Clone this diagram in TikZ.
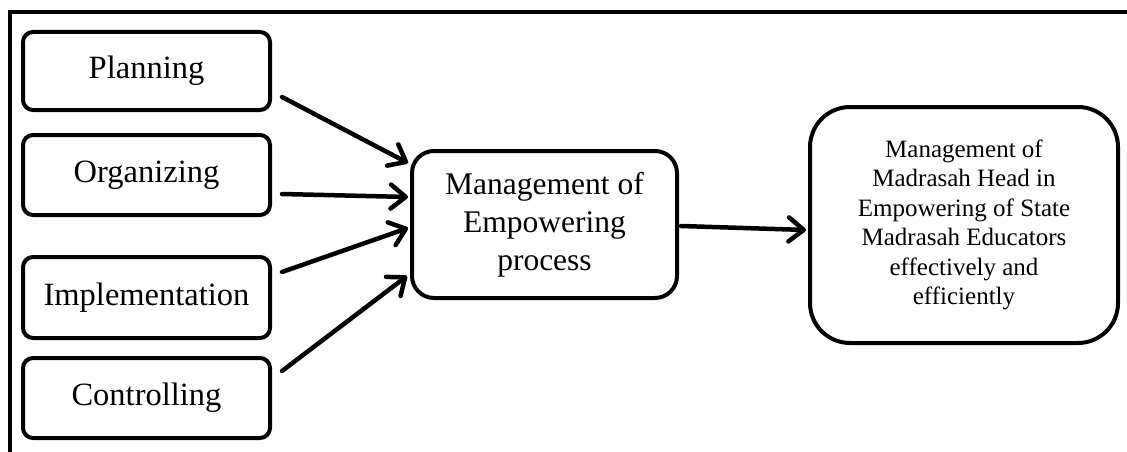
\documentclass[tikz,border=0pt]{standalone}
\usepackage{fontspec}
\setmainfont{Liberation Serif}
\usetikzlibrary{arrows.meta,calc}
\begin{document}
\begin{tikzpicture}[x=1pt,y=-1pt,
  lbox/.style={draw,line width=4pt,rounded corners=10pt,minimum width=247pt,minimum height=80pt,inner sep=0pt,align=center,font=\fontsize{32.5}{37}\selectfont},
  arr/.style={line width=4.5pt,line cap=round,-{Straight Barb[length=15pt,width=24pt,round]}},
  frame/.style={line width=4pt}]
\useasboundingbox (0,0) rectangle (1127,452);
\draw[frame] (10,452) -- (10,12) -- (1127,12);
\node[lbox,minimum height=78pt] (plan) at (146.5,71) {Planning};
\node[lbox] (org) at (146.5,175) {Organizing};
\node[lbox,minimum height=81pt] (impl) at (146.5,297.5) {Implementation};
\node[lbox] (ctrl) at (146.5,398) {Controlling};
\node[draw,line width=4pt,rounded corners=22pt,minimum width=265pt,minimum height=147pt,inner sep=0pt,align=center,font=\fontsize{31.5}{37.5}\selectfont] (mid) at (544.5,224.5) {\raisebox{-4pt}{\begin{tabular}{@{}c@{}}Management of\\[0.5pt]Empowering\\[0.5pt]process\end{tabular}}};
\node[draw,line width=4pt,rounded corners=40pt,minimum width=308pt,minimum height=236pt,inner sep=0pt,align=center,font=\fontsize{25}{29.5}\selectfont] (res) at (964,225) {Management of\\Madrasah Head in\\Empowering of State\\Madrasah Educators\\effectively and\\efficiently};
\draw[arr] ($(plan.east)+(10,26)$) -- ($(mid.west)+(-2,-61.5)$);
\draw[arr] ($(org.east)+(10,19)$) -- ($(mid.west)+(-2,-27.5)$);
\draw[arr] ($(impl.east)+(10,-25.5)$) -- ($(mid.west)+(-2,3.5)$);
\draw[arr] ($(ctrl.east)+(10,-27)$) -- ($(mid.west)+(-3,51.5)$);
\draw[arr] ($(mid.east)+(2,1.5)$) -- ($(res.west)+(-2,5)$);
\end{tikzpicture}
\end{document}
